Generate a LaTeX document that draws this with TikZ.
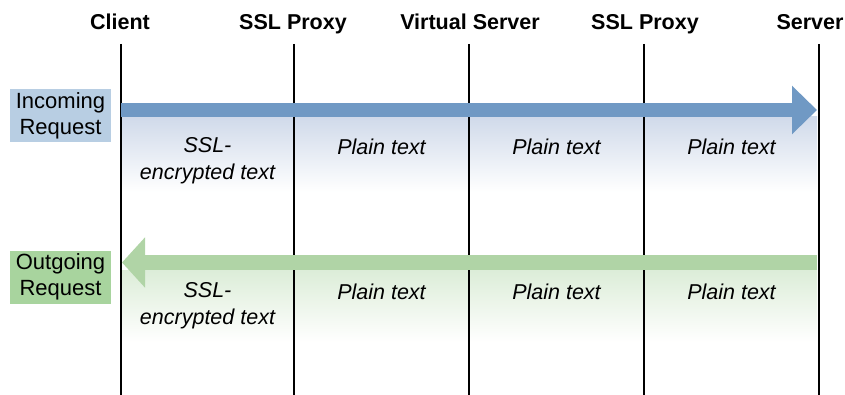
\documentclass[tikz,border=0pt]{standalone}
\usepackage{fontspec}
\setmainfont{Liberation Sans}
\usetikzlibrary{arrows.meta}
\definecolor{arr_blue}{RGB}{112,153,196}
\definecolor{box_blue}{RGB}{184,206,227}
\definecolor{fade_blue}{RGB}{208,218,234}
\definecolor{arr_green}{RGB}{176,212,166}
\definecolor{box_green}{RGB}{168,212,158}
\definecolor{fade_green}{RGB}{220,237,216}
\tikzset{
  hd_n/.style = {anchor=base, inner sep=0pt,
    font=\bfseries\fontsize{21.5}{24}\selectfont},% en-tete de colonne
  lane_l/.style = {black, line width=2pt},% ligne verticale
  req_box/.style = {align=center, inner sep=0pt, minimum width=101pt,
    minimum height=53pt, font=\fontsize{22}{26}\selectfont},% etiquette
  cell_t/.style = {align=center, inner sep=0pt,
    font=\itshape\fontsize{21.5}{27}\selectfont},% texte de cellule
  arr_in/.style = {draw=arr_blue, line width=14pt,
    -{Triangle[length=25pt, width=47pt]}},% fleche entrante
  arr_out/.style = {draw=arr_green, line width=15pt,
    -{Triangle[length=23pt, width=49pt]}}% fleche sortante
}
\begin{document}
\begin{tikzpicture}[x=1pt, y=-1pt]
\useasboundingbox (0,0) rectangle (845,395);
\shade[top color=fade_blue, bottom color=white] (121,117) rectangle (817,192);
\shade[top color=fade_green, bottom color=white] (121,270) rectangle (817,342);
% colonnes
\node [hd_n] (h1) at (120,30) {Client};
\node [hd_n] (h2) at (293,30) {SSL Proxy};
\node [hd_n] (h3) at (470,30) {Virtual Server};
\node [hd_n] (h4) at (645,30) {SSL Proxy};
\node [hd_n] (h5) at (810,30) {Server};
\foreach \x/\n in {121/1, 294/2, 469/3, 644/4, 819/5} {
  \coordinate (t\n) at (\x,44);
  \coordinate (b\n) at (\x,395);
  \draw [lane_l] (t\n) -- (b\n);
}
% requetes
\coordinate (in_s) at (121,110);
\coordinate (in_e) at (817,110);
\draw [arr_in] (in_s) -- (in_e);
\coordinate (out_s) at (817,262.5);
\coordinate (out_e) at (122,262.5);
\draw [arr_out] (out_s) -- (out_e);
\node [req_box, fill=box_blue] (inc) at (60.5,115.5) {Incoming\\Request};
\node [req_box, fill=box_green] (outg) at (60.5,277) {Outgoing\\Request};
% textes
\node [cell_t] (ci1) at (207.5,161) {SSL-\\encrypted text};
\node [cell_t] (co1) at (207.5,306) {SSL-\\encrypted text};
\foreach \x/\n in {381.5/2, 556.5/3, 731.5/4} {
  \node [cell_t] (ci\n) at (\x,147) {Plain text};
  \node [cell_t] (co\n) at (\x,292) {Plain text};
}
\end{tikzpicture}
\end{document}
